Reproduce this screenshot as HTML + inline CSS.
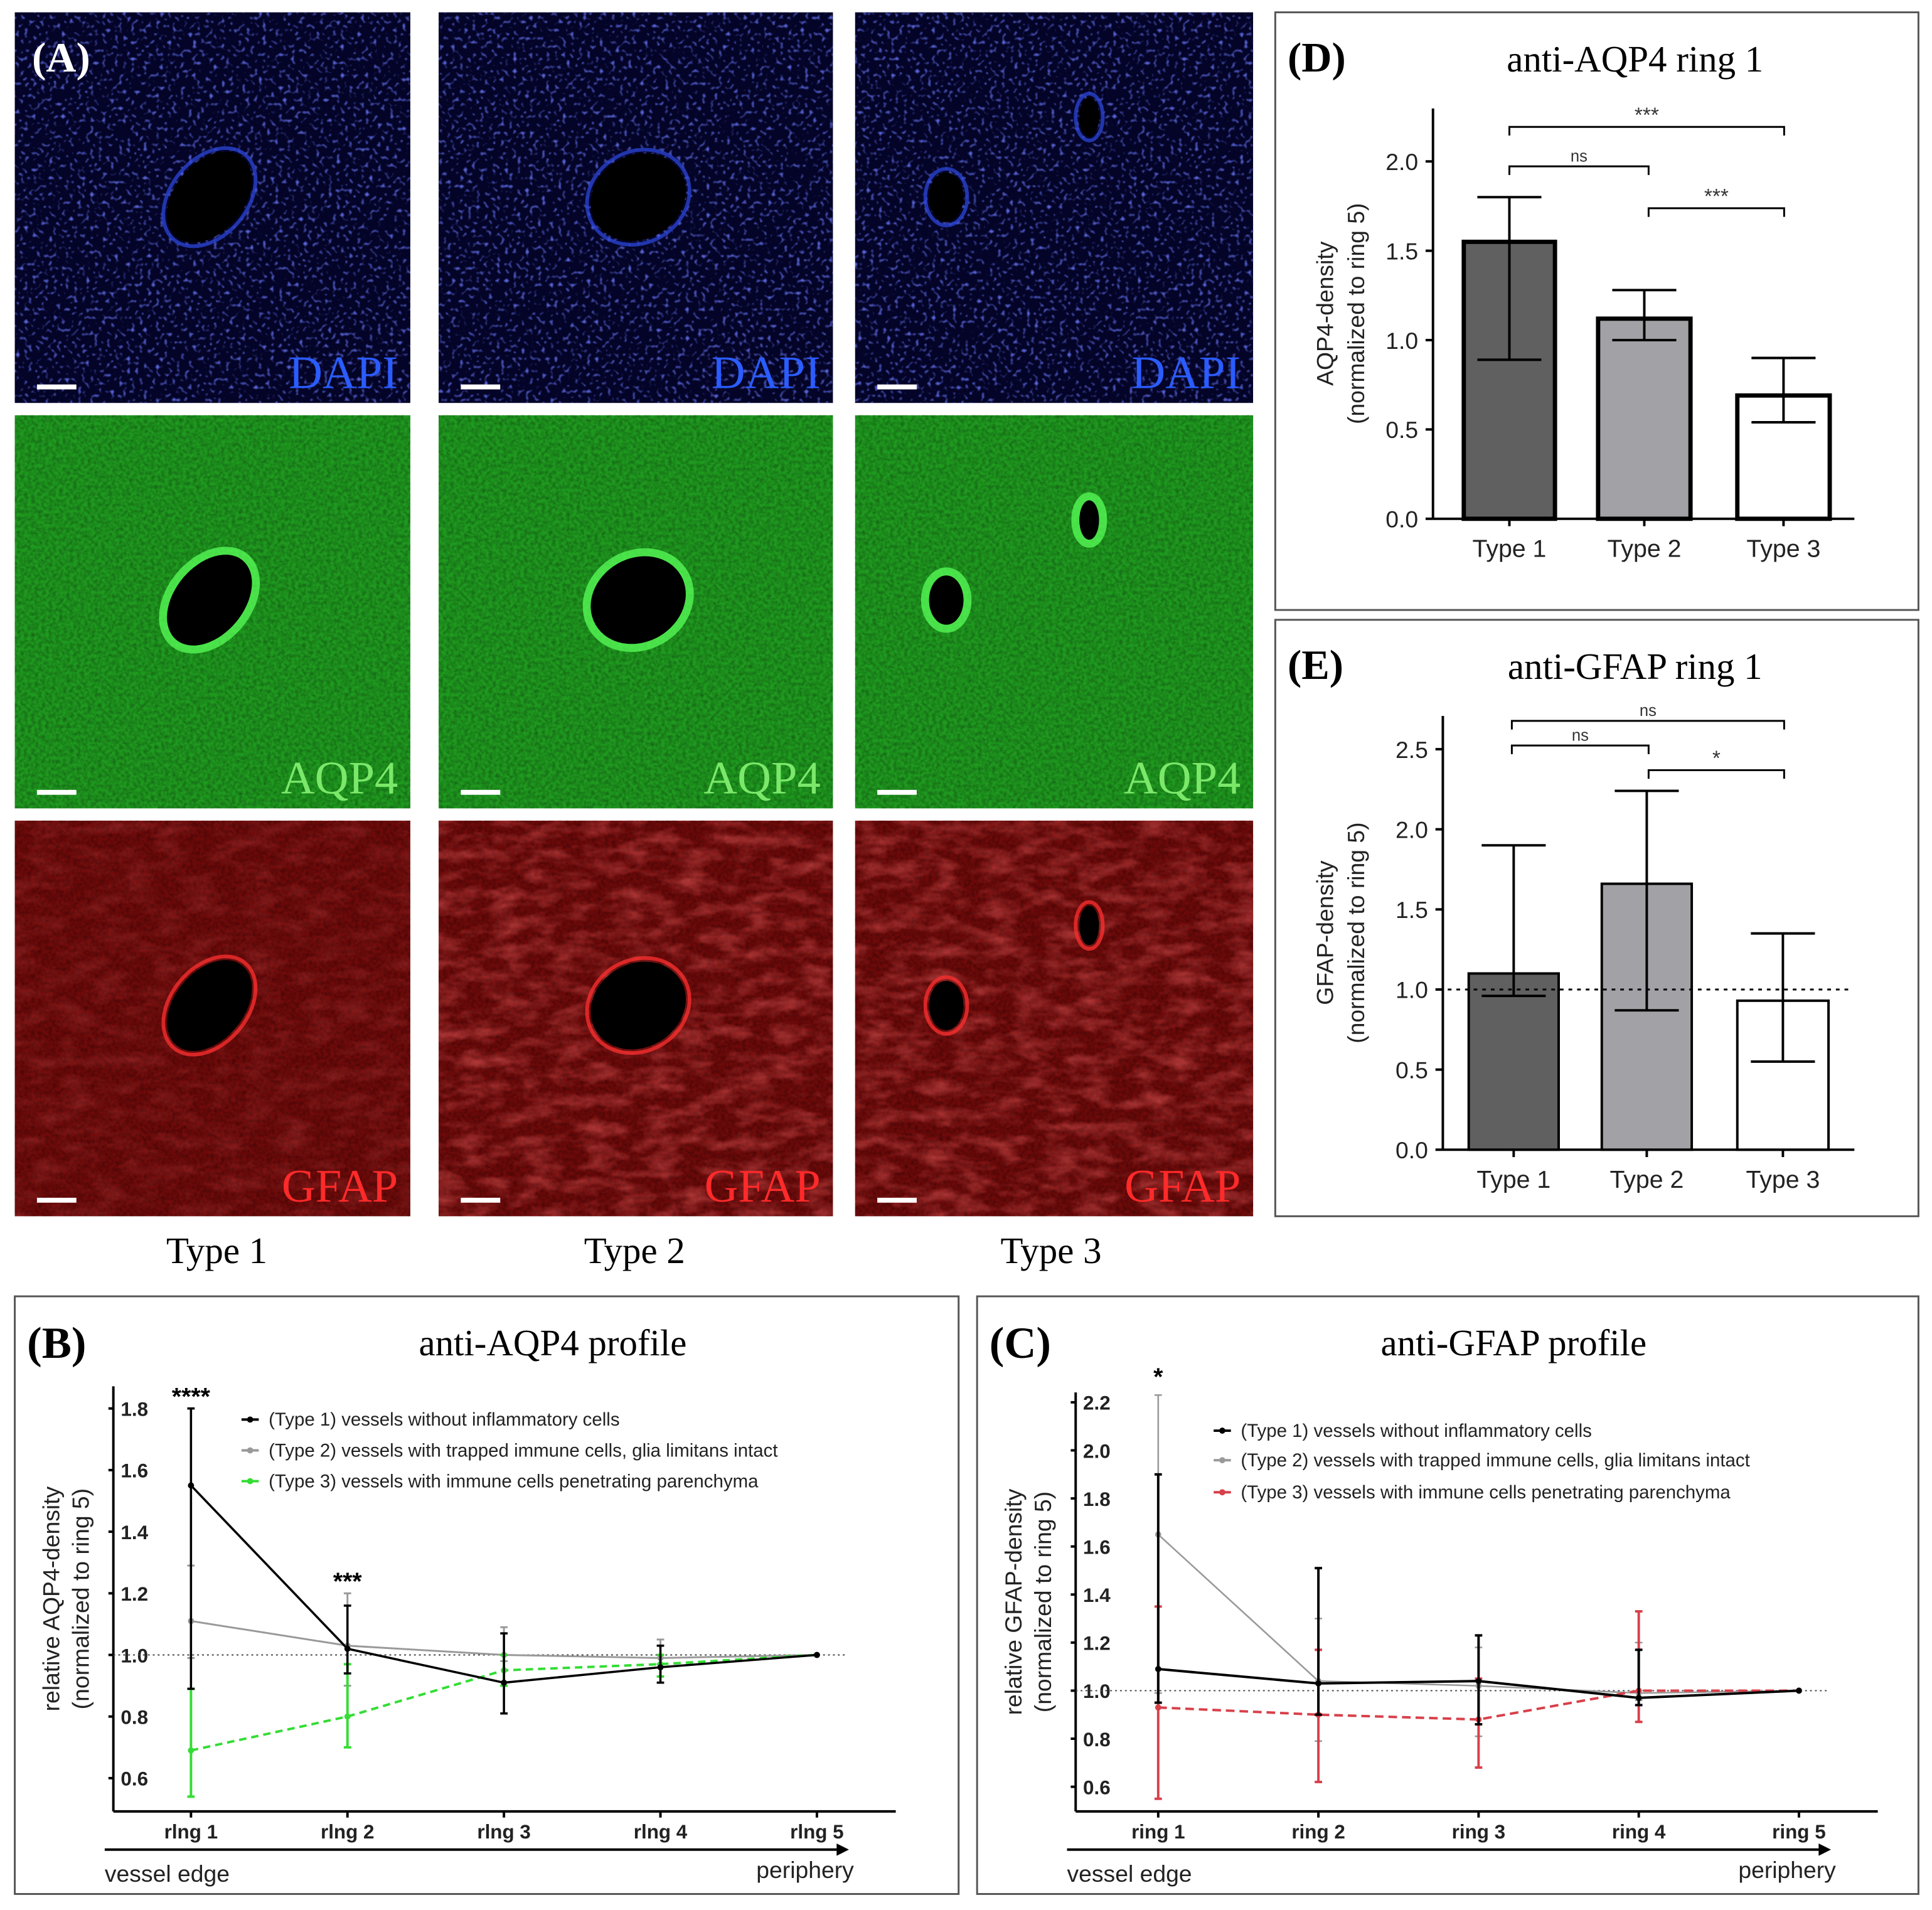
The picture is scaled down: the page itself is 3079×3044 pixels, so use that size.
<!DOCTYPE html>
<html><head><meta charset="utf-8"><style>
html,body{margin:0;padding:0;background:#fff;}
svg{display:block;}
</style></head><body>
<svg id="fig" xmlns="http://www.w3.org/2000/svg" width="3079" height="3044" viewBox="0 0 1568 1550" preserveAspectRatio="none">
<defs>
<filter id="noise" x="0" y="0" width="100%" height="100%"><feTurbulence type="fractalNoise" baseFrequency="0.35" numOctaves="2" seed="3"/><feColorMatrix type="matrix" values="0 0 0 0 0  0 0 0 0 0  0 0 0 0 0  0 0 0 -1.6 1.1"/></filter>
<filter id="dots" x="0" y="0" width="100%" height="100%"><feTurbulence type="fractalNoise" baseFrequency="0.3" numOctaves="1" seed="11"/><feColorMatrix type="matrix" values="0 0 0 0 0.15  0 0 0 0 0.2  0 0 0 0 1  0 0 0 4 -2.2"/></filter>
<filter id="fib" x="0" y="0" width="100%" height="100%"><feTurbulence type="fractalNoise" baseFrequency="0.04 0.09" numOctaves="3" seed="7"/><feColorMatrix type="matrix" values="0 0 0 0 1  0 0 0 0 0.15  0 0 0 0 0.15  0 0 0 -2 1.2"/></filter>
</defs>
<rect width="1568" height="1550" fill="#fff"/>
<g id="micro"></g>
<g font-family="Liberation Serif,serif" font-size="30" fill="#000">
<text x="176" y="1025" text-anchor="middle">Type 1</text>
<text x="515" y="1025" text-anchor="middle">Type 2</text>
<text x="853" y="1025" text-anchor="middle">Type 3</text>
</g>
<text font-family="Liberation Serif,serif" x="26" y="58" font-size="34" font-weight="bold" fill="#fff">(A)</text>
<g id="panelD"></g>
<g id="panelE"></g>
<g id="panelB"></g>
<g id="panelC"></g>
</svg>
<script>
// ---------- Data ----------
const barCats = ["Type 1","Type 2","Type 3"];
const aqpBarVals = [1.55, 1.12, 0.69];
const aqpBarLo = [0.89, 1.00, 0.54];
const aqpBarHi = [1.80, 1.28, 0.90];
const aqpBarTicks = [0,0.5,1.0,1.5,2.0];
const gfapBarVals = [1.10, 1.66, 0.93];
const gfapBarLo = [0.96, 0.87, 0.55];
const gfapBarHi = [1.90, 2.24, 1.35];
const gfapBarTicks = [0,0.5,1.0,1.5,2.0,2.5];

const rings = ["ring 1","ring 2","ring 3","ring 4","ring 5"];
const aqpT1 = [1.55,1.02,0.91,0.96,1.00];
const aqpT1Lo = [0.89,0.94,0.81,0.91,1.00];
const aqpT1Hi = [1.80,1.16,1.07,1.03,1.00];
const aqpT2 = [1.11,1.03,1.00,0.99,1.00];
const aqpT2Lo = [0.99,0.90,0.98,0.97,1.00];
const aqpT2Hi = [1.29,1.20,1.09,1.05,1.00];
const aqpT3 = [0.69,0.80,0.95,0.97,1.00];
const aqpT3Lo = [0.54,0.70,0.90,0.93,1.00];
const aqpT3Hi = [0.89,0.97,1.00,1.00,1.00];
const aqpTicks = [0.6,0.8,1.0,1.2,1.4,1.6,1.8];

const gfT1 = [1.09,1.03,1.04,0.97,1.00];
const gfT1Lo = [0.95,0.90,0.86,0.94,1.00];
const gfT1Hi = [1.90,1.51,1.23,1.17,1.00];
const gfT2 = [1.65,1.04,1.02,0.99,1.00];
const gfT2Lo = [0.99,0.79,0.81,0.96,1.00];
const gfT2Hi = [2.23,1.30,1.18,1.20,1.00];
const gfT3 = [0.93,0.90,0.88,1.00,1.00];
const gfT3Lo = [0.55,0.62,0.68,0.87,1.00];
const gfT3Hi = [1.35,1.17,1.05,1.33,1.00];
const gfTicks = [0.6,0.8,1.0,1.2,1.4,1.6,1.8,2.0,2.2];

const NS="http://www.w3.org/2000/svg";
function mk(parent,tag,attrs,text){const e=document.createElementNS(NS,tag);for(const k in attrs)e.setAttribute(k,attrs[k]);if(text!==undefined)e.textContent=text;parent.appendChild(e);return e;}

// ---------- Micrographs ----------
const micro=document.getElementById('micro');
const cols=[[12,333],[356,676],[694,1017]];
const rows=[[10,327],[337,656],[666,987]];
const rowInfo=[{bg:"#040428",lab:"DAPI",lc:"#2a5cff",vc:"#2b45d8"},{bg:"#1f9a1f",lab:"AQP4",lc:"#7be86a",vc:"#5aff5a"},{bg:"#6e0a0a",lab:"GFAP",lc:"#ff2a2a",vc:"#ff3030"}];
const vessels=[[[170,160,42,28,-50]],[[518,160,40,34,-30]],[[768,160,14,20,0],[884,95,8,16,0]]];
rows.forEach((r,ri)=>{cols.forEach((c,ci)=>{
  const g=mk(micro,'g',{});
  
  
  const W=c[1]-c[0],H=r[1]-r[0];
  mk(g,'rect',{x:c[0],y:r[0],width:W,height:H,fill:rowInfo[ri].bg});
  if(ri==0) mk(g,'rect',{x:c[0],y:r[0],width:W,height:H,filter:"url(#dots)",opacity:0.8});
  else mk(g,'rect',{x:c[0],y:r[0],width:W,height:H,fill:"#000",filter:"url(#noise)",opacity:0.35});
  if(ri==2) mk(g,'rect',{x:c[0],y:r[0],width:W,height:H,filter:"url(#fib)",opacity:ci==0?0.2:0.45});
  const dy=r[0]-10;
  vessels[ci].forEach(v=>{
    const cy=v[1]+dy;
    mk(g,'ellipse',{cx:v[0],cy:cy,rx:v[2]+3,ry:v[3]+3,fill:"none",stroke:rowInfo[ri].vc,"stroke-width":ri==1?7:3,opacity:0.75,transform:`rotate(${v[4]} ${v[0]} ${cy})`});
    mk(g,'ellipse',{cx:v[0],cy:cy,rx:v[2],ry:v[3],fill:"#000",transform:`rotate(${v[4]} ${v[0]} ${cy})`});
  });
  mk(g,'rect',{x:c[0]+18,y:r[1]-15,width:32,height:4,fill:"#fff"});
  const t=mk(g,'text',{x:c[1]-10,y:r[1]-12,"text-anchor":"end","font-size":38,fill:rowInfo[ri].lc,"font-family":"Liberation Serif,serif"},rowInfo[ri].lab);
  
  
});});

// ---------- Bar charts ----------
function barChart(gid,box,lab,title,ylab,vals,lo,hi,ticks,x0,x1,yBase,yTop,vTop,barsX,brackets,dotted){
  const g=document.getElementById(gid);
  mk(g,'rect',{x:box[0],y:box[1],width:box[2]-box[0],height:box[3]-box[1],fill:"#fff",stroke:"#555","stroke-width":1.5});
  mk(g,'text',{x:box[0]+10,y:box[1]+48,"font-size":34,"font-weight":"bold","font-family":"Liberation Serif,serif"},lab);
  mk(g,'text',{x:1327,y:box[1]+48,"font-size":30,"text-anchor":"middle","font-family":"Liberation Serif,serif"},title);
  const ys=v=>yBase-(v/vTop)*(yBase-yTop);
  mk(g,'line',{x1:x0,y1:ys(0),x2:x0,y2:box[1]+78,stroke:"#000","stroke-width":2});
  mk(g,'line',{x1:x0,y1:yBase,x2:x1,y2:yBase,stroke:"#000","stroke-width":2});
  ticks.forEach(t=>{
    mk(g,'line',{x1:x0-6,y1:ys(t),x2:x0,y2:ys(t),stroke:"#000","stroke-width":2});
    const tx=mk(g,'text',{x:x0-12,y:ys(t)+7,"font-size":19,"text-anchor":"end","font-family":"Liberation Sans,sans-serif",fill:"#222"},t.toFixed(1));
    
    
  });
  const cy=(yBase+box[1]+78)/2;
  mk(g,'text',{x:0,y:0,"font-size":19,"text-anchor":"middle","font-family":"Liberation Sans,sans-serif",transform:`translate(${box[0]+47},${cy}) rotate(-90)`,fill:"#222"},ylab);
  mk(g,'text',{x:0,y:0,"font-size":19,"text-anchor":"middle","font-family":"Liberation Sans,sans-serif",transform:`translate(${box[0]+72},${cy}) rotate(-90)`,fill:"#222"},"(normalized to ring 5)");
  const fills=["#606060","#a2a2a6","#fff"];
  vals.forEach((v,i)=>{
    const [bx0,bx1]=barsX[i];const cx=(bx0+bx1)/2;
    const b=mk(g,'rect',{x:bx0,y:ys(v),width:bx1-bx0,height:yBase-ys(v),fill:fills[i],stroke:"#000","stroke-width":dotted?2:3.5});
    
    
  });
  if(dotted) mk(g,'line',{x1:x0+4,y1:ys(1),x2:x1-5,y2:ys(1),stroke:"#000","stroke-width":1.5,"stroke-dasharray":"3,4"});
  vals.forEach((v,i)=>{
    const [bx0,bx1]=barsX[i];const cx=(bx0+bx1)/2;
    mk(g,'line',{x1:cx,y1:ys(lo[i]),x2:cx,y2:ys(hi[i]),stroke:"#000","stroke-width":2});
    mk(g,'line',{x1:cx-26,y1:ys(lo[i]),x2:cx+26,y2:ys(lo[i]),stroke:"#000","stroke-width":2});
    mk(g,'line',{x1:cx-26,y1:ys(hi[i]),x2:cx+26,y2:ys(hi[i]),stroke:"#000","stroke-width":2});
    mk(g,'line',{x1:cx,y1:yBase,x2:cx,y2:yBase+6,stroke:"#000","stroke-width":2});
    mk(g,'text',{x:cx,y:yBase+31,"font-size":20,"text-anchor":"middle","font-family":"Liberation Sans,sans-serif",fill:"#222"},barCats[i]);
  });
  brackets.forEach(br=>{
    mk(g,'path',{d:`M${br[0]},${br[2]+7}V${br[2]}H${br[1]}V${br[2]+7}`,fill:"none",stroke:"#000","stroke-width":1.5});
    mk(g,'text',{x:(br[0]+br[1])/2,y:br[2]-4,"font-size":br[3]=="ns"?13:17,"text-anchor":"middle","font-family":"Liberation Sans,sans-serif",fill:"#333"},br[3]);
  });
}
barChart('panelD',[1035,10,1557,495],"(D)","anti-AQP4 ring 1","AQP4-density",aqpBarVals,aqpBarLo,aqpBarHi,aqpBarTicks,1163,1505,421,131,2.0,
  [[1188,1262],[1297,1372],[1410,1485]],[[1225,1448,103,"***"],[1225,1338,135,"ns"],[1338,1448,169,"***"]],false);
barChart('panelE',[1035,503,1557,987],"(E)","anti-GFAP ring 1","GFAP-density",gfapBarVals,gfapBarLo,gfapBarHi,gfapBarTicks,1171,1505,933,608,2.5,
  [[1192,1265],[1300,1373],[1410,1484]],[[1227,1448,585,"ns"],[1227,1338,605,"ns"],[1338,1448,625,"*"]],true);

// ---------- Line charts ----------
function lineChart(gid,box,lab,title,ylab,ringX,yAx,y0px,y0v,ppu,ticks,series,stars,legY,legX,axTop){
  const g=document.getElementById(gid);
  mk(g,'rect',{x:box[0],y:box[1],width:box[2]-box[0],height:box[3]-box[1],fill:"#fff",stroke:"#555","stroke-width":1.5});
  mk(g,'text',{x:box[0]+10,y:box[1]+50,"font-size":36,"font-weight":"bold","font-family":"Liberation Serif,serif"},lab);
  mk(g,'text',{x:box[0]+(box[2]-box[0])*0.57,y:box[1]+48,"font-size":30,"text-anchor":"middle","font-family":"Liberation Serif,serif"},title);
  const ys=v=>y0px-(v-y0v)*ppu;
  const xb=1470;
  mk(g,'line',{x1:yAx,y1:axTop,x2:yAx,y2:xb,stroke:"#000","stroke-width":2});
  mk(g,'line',{x1:yAx,y1:xb,x2:ringX[4]+64,y2:xb,stroke:"#000","stroke-width":2});
  ticks.forEach(t=>{
    mk(g,'line',{x1:yAx-4,y1:ys(t),x2:yAx,y2:ys(t),stroke:"#000","stroke-width":2});
    mk(g,'text',{x:yAx+6,y:ys(t)+6,"font-size":16,"font-family":"Liberation Sans,sans-serif","font-weight":"bold",fill:"#222"},t.toFixed(1));
  });
  const cy=(axTop+xb)/2;
  mk(g,'text',{x:0,y:0,"font-size":19,"text-anchor":"middle","font-family":"Liberation Sans,sans-serif",transform:`translate(${box[0]+36},${cy}) rotate(-90)`,fill:"#222"},ylab);
  mk(g,'text',{x:0,y:0,"font-size":19,"text-anchor":"middle","font-family":"Liberation Sans,sans-serif",transform:`translate(${box[0]+60},${cy}) rotate(-90)`,fill:"#222"},"(normalized to ring 5)");
  mk(g,'line',{x1:yAx,y1:ys(1),x2:ringX[4]+25,y2:ys(1),stroke:"#444","stroke-width":1,"stroke-dasharray":"1.5,2.5"});
  rings.forEach((r,i)=>{
    mk(g,'line',{x1:ringX[i],y1:xb,x2:ringX[i],y2:xb+5,stroke:"#000","stroke-width":2});
    mk(g,'text',{x:ringX[i],y:xb+22,"font-size":16,"text-anchor":"middle","font-family":"Liberation Sans,sans-serif","font-weight":"bold",fill:"#222"},gid=="panelB"?r.replace("ring","rlng"):r);
  });
  mk(g,'line',{x1:box[0]+73,y1:1501,x2:ringX[4]+18,y2:1501,stroke:"#000","stroke-width":2});
  mk(g,'path',{d:`M${ringX[4]+26},1501 l-10,-5 v10z`,fill:"#000"});
  mk(g,'text',{x:box[0]+73,y:1527,"font-size":19,"font-family":"Liberation Sans,sans-serif",fill:"#222"},"vessel edge");
  mk(g,'text',{x:ringX[4]+30,y:1524,"font-size":19,"text-anchor":"end","font-family":"Liberation Sans,sans-serif",fill:"#222"},"periphery");
  series.forEach((s,si)=>{
    const pts=s.v.map((v,i)=>ringX[i]+","+ys(v)).join(" ");
    s.v.forEach((v,i)=>{
      if(s.lo[i]==s.hi[i])return;
      mk(g,'line',{x1:ringX[i],y1:ys(s.lo[i]),x2:ringX[i],y2:ys(s.hi[i]),stroke:s.c,"stroke-width":s.w});
      mk(g,'line',{x1:ringX[i]-3,y1:ys(s.lo[i]),x2:ringX[i]+3,y2:ys(s.lo[i]),stroke:s.c,"stroke-width":s.w});
      mk(g,'line',{x1:ringX[i]-3,y1:ys(s.hi[i]),x2:ringX[i]+3,y2:ys(s.hi[i]),stroke:s.c,"stroke-width":s.w});
    });
    const pl=mk(g,'polyline',{points:pts,fill:"none",stroke:s.c,"stroke-width":s.w,"stroke-dasharray":s.dash||"none"});
    
    
    s.v.forEach((v,i)=>mk(g,'circle',{cx:ringX[i],cy:ys(v),r:2.5,fill:s.c}));
    mk(g,'line',{x1:legX,y1:legY[si],x2:legX+14,y2:legY[si],stroke:s.c,"stroke-width":2});
    mk(g,'circle',{cx:legX+7,cy:legY[si],r:2.5,fill:s.c});
    const lt=mk(g,'text',{x:legX+22,y:legY[si]+5,"font-size":15,"font-family":"Liberation Sans,sans-serif",fill:"#222"},s.name);
    
    
  });
  stars.forEach(st=>mk(g,'text',{x:ringX[st[0]],y:st[1],"font-size":20,"font-weight":"bold","text-anchor":"middle","font-family":"Liberation Sans,sans-serif"},st[2]));
}
const n1="(Type 1) vessels without inflammatory cells",n2="(Type 2) vessels with trapped immune cells, glia limitans intact",n3="(Type 3) vessels with immune cells penetrating parenchyma";
lineChart('panelB',[12,1052,778,1537],"(B)","anti-AQP4 profile","relative AQP4-density",[155,282,409,536,663],92,1343,1.0,250,aqpTicks,
  [{v:aqpT2,lo:aqpT2Lo,hi:aqpT2Hi,c:"#999",w:1.5,name:n2},{v:aqpT3,lo:aqpT3Lo,hi:aqpT3Hi,c:"#33dd33",w:2,dash:"6,4",name:n3},{v:aqpT1,lo:aqpT1Lo,hi:aqpT1Hi,c:"#000",w:1.8,name:n1}],
  [[0,1140,"****"],[1,1290,"***"]],[1177,1202,1152],196,1125);
lineChart('panelC',[793,1052,1557,1537],"(C)","anti-GFAP profile","relative GFAP-density",[940,1070,1200,1330,1460],873,1372,1.0,195,gfTicks,
  [{v:gfT2,lo:gfT2Lo,hi:gfT2Hi,c:"#999",w:1.3,name:n2},{v:gfT3,lo:gfT3Lo,hi:gfT3Hi,c:"#d8404a",w:2,dash:"7,4",name:n3},{v:gfT1,lo:gfT1Lo,hi:gfT1Hi,c:"#000",w:2,name:n1}],
  [[0,1124,"*"]],[1185,1211,1161],985,1130);
</script>
</body></html>
